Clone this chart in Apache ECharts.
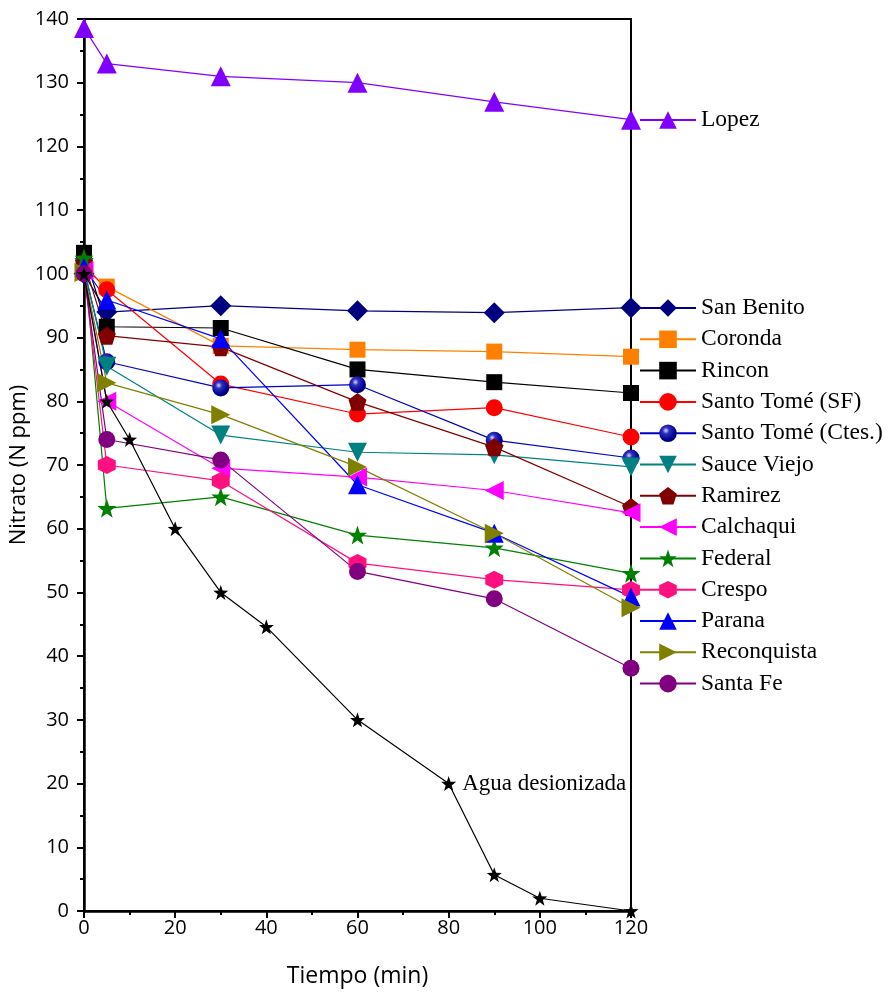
<!DOCTYPE html>
<html>
<head>
<meta charset="utf-8">
<script src="https://cdn.jsdelivr.net/npm/echarts@6/dist/echarts.min.js"></script>
<style>html,body{margin:0;padding:0;background:#fff}#c{width:893px;height:993px}</style>
</head>
<body>
<div id="c"></div>
<script>
// ---- data ----
const times = [0, 5, 30, 60, 90, 120];
const aguaTimes = [0, 5, 10, 20, 30, 40, 60, 80, 90, 100, 120];
const aguaValues = [100, 80, 74, 60, 50, 44.6, 30, 20, 5.7, 2, 0];

const lopez        = [138.6, 133, 131, 130, 127, 124.2];
const sanBenito    = [100, 94, 95, 94.2, 93.9, 94.7];
const coronda      = [100.8, 98, 88.7, 88.1, 87.8, 87];
const rincon       = [103.3, 91.7, 91.5, 85, 83, 81.3];
const santoTomeSF  = [101.5, 97.5, 82.7, 78, 79, 74.4];
const santoTomeCt  = [100.5, 86.2, 82.1, 82.6, 73.9, 71.1];
const sauceViejo   = [101, 85.5, 74.7, 72, 71.6, 69.7];
const ramirez      = [101.8, 90.3, 88.5, 79.9, 72.8, 63.4];
const calchaqui    = [100.5, 80, 69.5, 68.1, 66, 62.5];
const federal      = [102.5, 63.2, 65, 59, 57, 53];
const crespo       = [100.3, 70, 67.5, 54.6, 52, 50.4];
const parana       = [101, 95.9, 89.8, 66.9, 59.3, 49.3];
const reconquista  = [100.2, 82.9, 77.9, 69.7, 59.3, 47.6];
const santaFe      = [100, 74, 70.8, 53.3, 49, 38.1];

const xTicks = [0, 20, 40, 60, 80, 100, 120];
const yTicks = [0, 10, 20, 30, 40, 50, 60, 70, 80, 90, 100, 110, 120, 130, 140];

// ---- symbols ----
const STAR = 'path://M0,-10 L2.35,-3.24 L9.51,-3.09 L3.8,1.24 L5.88,8.09 L0,4 L-5.88,8.09 L-3.8,1.24 L-9.51,-3.09 L-2.35,-3.24 Z';
const PENTA = 'path://M0,-10 L9.51,-3.09 L5.88,8.09 L-5.88,8.09 L-9.51,-3.09 Z';
const HEXA = 'path://M0,-10 L8.66,-5 L8.66,5 L0,10 L-8.66,5 L-8.66,-5 Z';
const DIAM = 'path://M0,-10 L10,0 L0,10 L-10,0 Z';

const sphere = {type: 'radial', x: 0.38, y: 0.35, r: 0.75, colorStops: [
  {offset: 0, color: '#d8d8ff'}, {offset: 0.25, color: '#3030c0'}, {offset: 0.7, color: '#000090'}, {offset: 1, color: '#000050'}]};

function pair(xs, ys) { return xs.map((x, i) => [x, ys[i]]); }

function mk(name, vals, color, lineColor, symbol, size, rot) {
  return {
    name: name, type: 'line', data: pair(times, vals),
    symbol: symbol, symbolSize: size, symbolRotate: rot || 0,
    itemStyle: {color: color},
    lineStyle: {color: lineColor || color, width: 1.2},
    clip: false, animation: false, z: 3
  };
}

const seriesList = [
  mk('Lopez', lopez, '#8000ff', null, 'triangle', 20),
  mk('San Benito', sanBenito, '#000080', null, DIAM, 21),
  mk('Coronda', coronda, '#ff8000', null, 'rect', 16),
  mk('Rincon', rincon, '#000000', null, 'rect', 16),
  mk('Santo Tomé (SF)', santoTomeSF, '#ff0000', null, 'circle', 17),
  mk('Santo Tomé (Ctes.)', santoTomeCt, sphere, '#0000c0', 'circle', 17),
  mk('Sauce Viejo', sauceViejo, '#008080', null, 'triangle', 19, 180),
  mk('Ramirez', ramirez, '#800000', null, PENTA, 18),
  mk('Calchaqui', calchaqui, '#ff00ff', null, 'triangle', 19, 90),
  mk('Federal', federal, '#008000', null, STAR, 19),
  mk('Crespo', crespo, '#ff1080', null, HEXA, 18),
  mk('Parana', parana, '#0000ff', null, 'triangle', 19),
  mk('Reconquista', reconquista, '#808000', null, 'triangle', 19, -90),
  mk('Santa Fe', santaFe, '#800080', null, 'circle', 17)
];

seriesList.push({
  name: 'Agua desionizada', type: 'line',
  data: aguaTimes.map((x, i) => {
    const d = {value: [x, aguaValues[i]]};
    if (x === 80) d.label = {show: true, position: 'right', distance: 6, formatter: 'Agua desionizada',
      fontFamily: 'Liberation Serif', fontSize: 23, color: '#000'};
    return d;
  }),
  symbol: STAR, symbolSize: 15,
  itemStyle: {color: '#000'}, lineStyle: {color: '#000', width: 1.2},
  clip: false, animation: false, z: 3
});

const legendText = {fontFamily: 'Liberation Serif', fontSize: 23.5, color: '#000', lineHeight: 22};
const legendNames = seriesList.slice(1, 14).map(s => s.name);

const chart = echarts.init(document.getElementById('c'), null, {renderer: 'canvas'});
chart.setOption({
  backgroundColor: '#fff',
  animation: false,
  grid: {left: 84, right: 262, top: 19, bottom: 82, show: true, borderColor: '#000', borderWidth: 2,
    backgroundColor: 'transparent', containLabel: false, outerBoundsMode: 'none'},
  legend: [
    {data: ['Lopez'], orient: 'vertical', left: 634, top: 103, itemWidth: 56, itemHeight: 22,
     textStyle: legendText},
    {data: legendNames, orient: 'vertical', left: 634, top: 291, itemWidth: 56, itemHeight: 22,
     itemGap: 7.3, textStyle: legendText}
  ],
  xAxis: {
    type: 'value', min: 0, max: 120, interval: 20,
    name: 'Tiempo (min)', nameLocation: 'middle', nameGap: 54, nameMoveOverlap: false,
    nameTextStyle: {fontFamily: 'Open Sans', fontSize: 23, color: '#000'},
    axisLine: {show: true, onZero: false, lineStyle: {color: '#000', width: 2.5}},
    axisTick: {show: true, inside: false, length: 7, lineStyle: {color: '#000', width: 2}},
    minorTick: {show: true, splitNumber: 2, length: 4, lineStyle: {color: '#000', width: 2}},
    splitLine: {show: false},
    axisLabel: {fontFamily: 'Open Sans', fontSize: 20, color: '#000', margin: 7,
      formatter: v => xTicks.includes(v) ? String(v) : ''}
  },
  yAxis: {
    type: 'value', min: 0, max: 140, interval: 10,
    name: 'Nitrato (N ppm)', nameLocation: 'middle', nameGap: 54, nameRotate: 90, nameMoveOverlap: false,
    nameTextStyle: {fontFamily: 'Open Sans', fontSize: 22, color: '#000'},
    axisLine: {show: true, onZero: false, lineStyle: {color: '#000', width: 2.5}},
    axisTick: {show: true, inside: false, length: 7, lineStyle: {color: '#000', width: 2}},
    minorTick: {show: true, splitNumber: 2, length: 4, lineStyle: {color: '#000', width: 2}},
    splitLine: {show: false},
    axisLabel: {fontFamily: 'Open Sans', fontSize: 20, color: '#000', margin: 15,
      formatter: v => yTicks.includes(v) ? String(v) : ''}
  },
  series: seriesList
});
</script>
</body>
</html>
